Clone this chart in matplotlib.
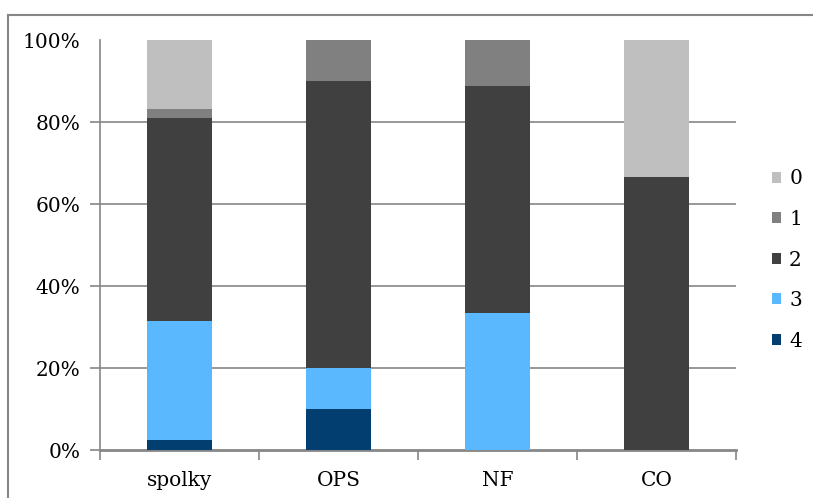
import matplotlib
matplotlib.use("Agg")
import matplotlib.pyplot as plt
from matplotlib.lines import Line2D
import numpy as np

categories = ["spolky", "OPS", "NF", "CO"]
series_names = ["4", "3", "2", "1", "0"]
s4 = [2.4, 10.0, 0.0, 0.0]
s3 = [29.1, 10.0, 33.3, 0.0]
s2 = [49.5, 70.0, 55.6, 66.7]
s1 = [2.2, 10.0, 11.1, 0.0]
s0 = [16.8, 0.0, 0.0, 33.3]
colors = ["#023F70", "#5AB8FF", "#404040", "#808080", "#BFBFBF"]
yticks = [0, 20, 40, 60, 80, 100]
yticklabels = ["0%", "20%", "40%", "60%", "80%", "100%"]

plt.rcParams['font.family'] = ['DejaVu Serif']
W, H = 813, 498
fig = plt.figure(figsize=(W/100, H/100), dpi=100)
ax = fig.add_axes([100/W, (H-450)/H, (736-100)/W, (450-40)/H])

x = np.arange(len(categories))
data = [s4, s3, s2, s1, s0]
bottom = np.zeros(len(categories))
bars = []
for vals, c, name in zip(data, colors, series_names):
    b = ax.bar(x, vals, bottom=bottom, width=0.41, color=c, label=name, zorder=3)
    bars.append(b)
    bottom += np.array(vals)

ax.set_xlim(-0.5, len(categories) - 0.5)
ax.set_ylim(0, 100)
ax.set_yticks(yticks)
ax.set_yticklabels(yticklabels, fontsize=14.5)
for t in yticks[1:-1]:
    ax.axhline(t, color="#868686", lw=1.2, zorder=1)

ax.set_xticks(x)
ax.set_xticklabels(categories, fontsize=14.5)
ax.set_xticks(np.arange(-0.5, len(categories)), minor=True)
ax.tick_params(axis='x', which='major', length=0, pad=15)
ax.tick_params(axis='x', which='minor', length=7, width=1.2, color="#868686", direction='out')
ax.tick_params(axis='y', length=7, width=1.2, color="#868686", pad=7)
ax.yaxis.get_major_ticks()[-1].tick1line.set_visible(False)

for sp in ['top', 'right']:
    ax.spines[sp].set_visible(False)
for sp in ['left', 'bottom']:
    ax.spines[sp].set_color("#868686")
    ax.spines[sp].set_linewidth(1.2)
ax.spines['bottom'].set_linewidth(2)

handles = bars[::-1]
leg = fig.legend(handles, series_names[::-1], loc='center left',
                 bbox_to_anchor=(764/W, (H-260)/H), frameon=False, fontsize=14.5,
                 handlelength=0.45, handleheight=0.45, handletextpad=0.4,
                 labelspacing=1.07, borderaxespad=0)

# outer chart frame
fig.add_artist(Line2D([8/W, 8/W], [0, (H-15)/H], transform=fig.transFigure, color="#868686", lw=1.5))
fig.add_artist(Line2D([8/W, 812/W], [(H-15)/H, (H-15)/H], transform=fig.transFigure, color="#868686", lw=1.5))

fig.savefig("out.png", dpi=100)
